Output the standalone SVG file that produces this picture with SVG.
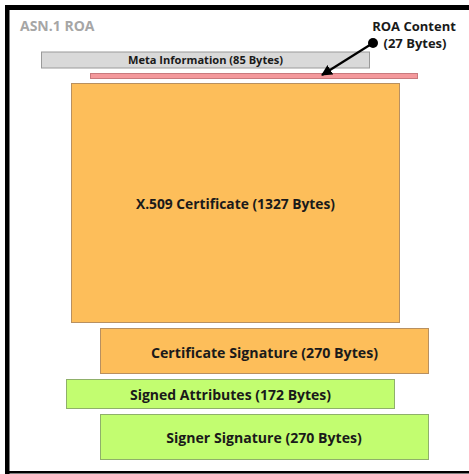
<svg xmlns="http://www.w3.org/2000/svg" width="469" height="474" viewBox="0 0 469 474">
<defs>
<style>
.t{font-family:"Open Sans","Liberation Sans",sans-serif;font-weight:700;fill:#1a1a1a;text-anchor:middle}
.box{stroke-width:1}
</style>
<marker id="ah" viewBox="0 0 10 10" refX="9" refY="5" markerWidth="5" markerHeight="5" orient="auto" markerUnits="strokeWidth">
<path d="M0,0 L10,5 L0,10 z" fill="#000"/>
</marker>
</defs>
<rect width="469" height="474" fill="#fff"/>
<g id="frame">
<rect x="5" y="5" width="464" height="5" fill="#000"/>
<rect x="5" y="5" width="4.5" height="469" fill="#000"/>
<rect x="5" y="471" width="464" height="2.5" fill="#000"/>
</g>
<g id="title"><text x="20" y="31" font-family="Open Sans,Liberation Sans,sans-serif" font-weight="700" font-size="14" fill="#a6a6a6">ASN.1 ROA</text></g>
<g id="meta">
<rect class="box" x="41.5" y="52" width="328" height="16" fill="#d9d9d9" stroke="#9a9a9a"/>
<text class="t" x="205.5" y="64" font-size="11.1">Meta Information (85 Bytes)</text>
</g>
<g id="roa-content">
<rect class="box" x="90.5" y="73.5" width="327" height="5" fill="#f4999c" stroke="#c87a7e"/>
</g>
<g id="cert">
<rect class="box" x="71.5" y="83.5" width="328" height="239" fill="#fdbe5a" stroke="#b89060"/>
<text class="t" x="235.5" y="209" font-size="13.8">X.509 Certificate (1327 Bytes)</text>
</g>
<g id="cert-sig">
<rect class="box" x="100.5" y="328.5" width="328" height="45" fill="#fdbe5a" stroke="#b89060"/>
<text class="t" x="264.5" y="358" font-size="14.2">Certificate Signature (270 Bytes)</text>
</g>
<g id="signed-attrs">
<rect class="box" x="66.5" y="379.5" width="328" height="29" fill="#c2fd70" stroke="#8fb06a"/>
<text class="t" x="230.5" y="400" font-size="14">Signed Attributes (172 Bytes)</text>
</g>
<g id="signer-sig">
<rect class="box" x="100.5" y="414.5" width="328" height="45" fill="#c2fd70" stroke="#8fb06a"/>
<text class="t" x="264" y="442.5" font-size="14.1">Signer Signature (270 Bytes)</text>
</g>
<g id="label">
<text class="t" x="414" y="31" font-size="13">ROA Content</text>
<text class="t" x="415" y="48" font-size="13">(27 Bytes)</text>
</g>
<g id="connectors">
<circle cx="373" cy="43" r="5" fill="#000"/>
<line x1="373" y1="43" x2="322" y2="75" stroke="#000" stroke-width="2.2" marker-end="url(#ah)"/>
</g>
</svg>
